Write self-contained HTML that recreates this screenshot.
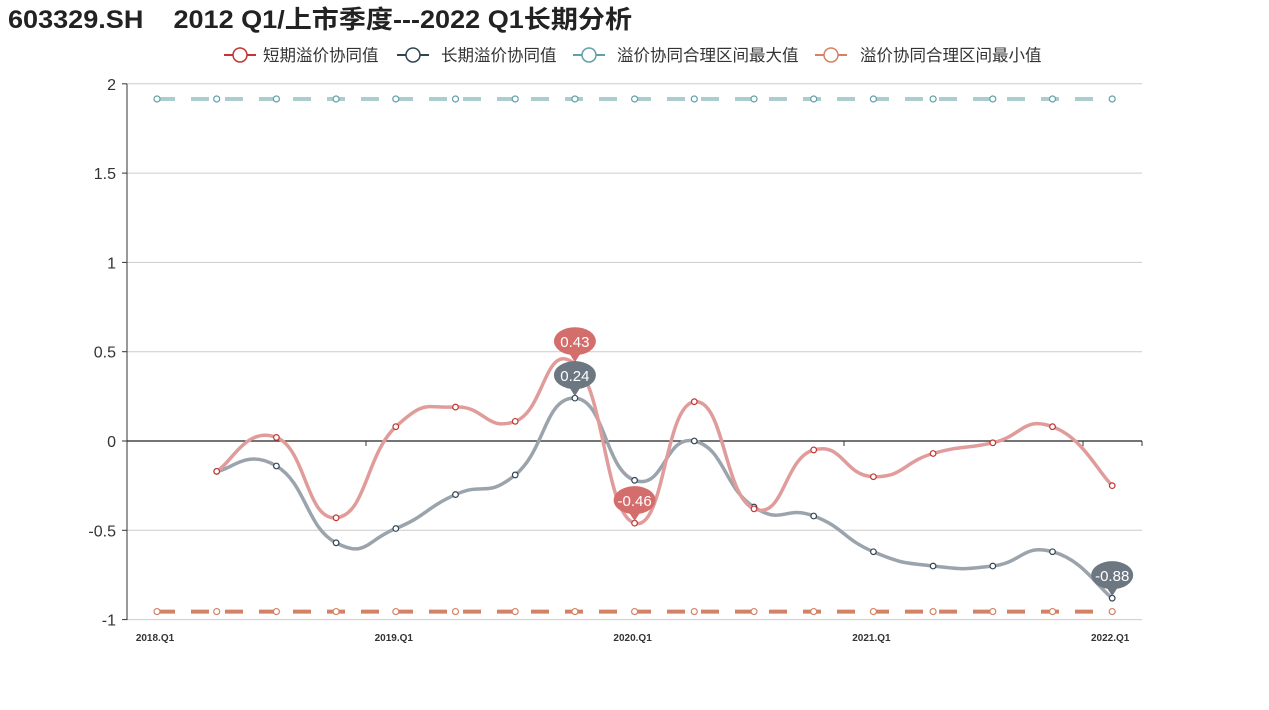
<!DOCTYPE html>
<html><head><meta charset="utf-8"><style>
body{margin:0;background:#fff;width:1269px;height:705px;overflow:hidden;font-family:"Liberation Sans","Noto Sans CJK SC",sans-serif}
</style></head><body>
<svg id="s" width="1269" height="705" xmlns="http://www.w3.org/2000/svg" font-family="Liberation Sans, Noto Sans CJK SC, sans-serif">
<text x="8" y="28" font-size="25" font-weight="bold" fill="#222" style="white-space:pre" textLength="624" lengthAdjust="spacingAndGlyphs">603329.SH    2012 Q1/上市季度---2022 Q1长期分析</text>
<g font-size="16.5" fill="#333">
<line x1="224" y1="55" x2="256" y2="55" stroke="#c23531" stroke-width="2"/><circle cx="240" cy="55" r="7" fill="#fff" stroke="#c23531" stroke-width="1.5"/><text x="263" y="61">短期溢价协同值</text>
<line x1="397" y1="55" x2="429" y2="55" stroke="#2f4554" stroke-width="2"/><circle cx="413" cy="55" r="7" fill="#fff" stroke="#2f4554" stroke-width="1.5"/><text x="441" y="61">长期溢价协同值</text>
<line x1="573" y1="55" x2="605" y2="55" stroke="#61a0a8" stroke-width="2"/><circle cx="589" cy="55" r="7" fill="#fff" stroke="#61a0a8" stroke-width="1.5"/><text x="617" y="61">溢价协同合理区间最大值</text>
<line x1="815" y1="55" x2="847" y2="55" stroke="#d48265" stroke-width="2"/><circle cx="831" cy="55" r="7" fill="#fff" stroke="#d48265" stroke-width="1.5"/><text x="860" y="61">溢价协同合理区间最小值</text>
</g>
<g id="grid"></g>
<g id="series"></g>
</svg>
<script>
const NS="http://www.w3.org/2000/svg";
function el(t,a,p,txt){const e=document.createElementNS(NS,t);for(const k in a)e.setAttribute(k,a[k]);if(txt!==undefined)e.textContent=txt;p.appendChild(e);return e;}
const g=document.getElementById('grid'),s=document.getElementById('series');
const Y=v=>441-v*178.6, X=i=>157+i*59.7;
[[2,'2'],[1.5,'1.5'],[1,'1'],[0.5,'0.5'],[0,'0'],[-0.5,'-0.5'],[-1,'-1']].forEach(([v,l])=>{
 if(v!==0)el('line',{x1:127,x2:1142,y1:Y(v),y2:Y(v),stroke:'#ccc'},g);
 el('line',{x1:122,x2:127,y1:Y(v),y2:Y(v),stroke:'#333'},g);
 el('text',{x:116,y:Y(v)+6,'text-anchor':'end','font-size':16,fill:'#333'},g,l);
});
el('line',{x1:127,x2:127,y1:84,y2:620,stroke:'#333'},g);
el('line',{x1:127,x2:1142,y1:441,y2:441,stroke:'#222','stroke-width':1.3},g);
[127,366,605,844,1083,1142].forEach(x=>el('line',{x1:x,x2:x,y1:441,y2:446,stroke:'#333'},g));
['2018.Q1','2019.Q1','2020.Q1','2021.Q1','2022.Q1'].forEach((l,k)=>el('text',{x:X(k*4)-2,y:641,'text-anchor':'middle','font-size':10,'font-weight':'bold',fill:'#333'},g,l));
const red=[null,-0.17,0.02,-0.43,0.08,0.19,0.11,0.43,-0.46,0.22,-0.38,-0.05,-0.2,-0.07,-0.01,0.08,-0.25];
const gray=[null,-0.17,-0.14,-0.57,-0.49,-0.30,-0.19,0.24,-0.22,0.0,-0.37,-0.42,-0.62,-0.70,-0.70,-0.62,-0.88];
function smooth(pts){let d=`M${pts[0][0]},${pts[0][1]}`;const t=0.25;
 for(let i=0;i<pts.length-1;i++){const p0=pts[Math.max(0,i-1)],p1=pts[i],p2=pts[i+1],p3=pts[Math.min(pts.length-1,i+2)];
 const c1=[p1[0]+(p2[0]-p0[0])*t,p1[1]+(p2[1]-p0[1])*t],c2=[p2[0]-(p3[0]-p1[0])*t,p2[1]-(p3[1]-p1[1])*t];
 d+=` C${c1[0]},${c1[1]} ${c2[0]},${c2[1]} ${p2[0]},${p2[1]}`;}return d;}
function flat(v,col,lc){el('line',{x1:X(0),x2:X(16),y1:Y(v),y2:Y(v),stroke:lc,'stroke-width':4,'stroke-dasharray':'18 16'},s);
 for(let i=0;i<17;i++)el('circle',{cx:X(i),cy:Y(v),r:3,fill:'#fff',stroke:col,'stroke-width':1.2},s);}
flat(1.915,'#61a0a8','#abcdd0');flat(-0.955,'#d48265','#d48265');
function ser(data,col,lc){const pts=[];data.forEach((v,i)=>{if(v!==null)pts.push([X(i),Y(v)]);});
 el('path',{d:smooth(pts),fill:'none',stroke:lc,'stroke-width':3.5},s);
 pts.forEach(p=>el('circle',{cx:p[0],cy:p[1],r:2.8,fill:'#fff',stroke:col,'stroke-width':1.2},s));}
ser(gray,'#2f4554','#9ba4ad');ser(red,'#c23531','#e09c9b');
function pin(x,y,txt,col){const cy=y-23;
 el('path',{d:`M${x-7},${cy+10} L${x},${y-2} L${x+7},${cy+10} Z`,fill:col},s);
 el('ellipse',{cx:x,cy:cy,rx:21,ry:14,fill:col},s);
 el('text',{x:x,y:cy+6,'text-anchor':'middle','font-size':15,fill:'#fff'},s,txt);}
pin(X(7),Y(0.43),'0.43','#d46e6c');pin(X(8),Y(-0.46),'-0.46','#d46e6c');
pin(X(7),Y(0.24),'0.24','#6d7782');pin(X(16),Y(-0.88),'-0.88','#6d7782');
</script>
</body></html>
